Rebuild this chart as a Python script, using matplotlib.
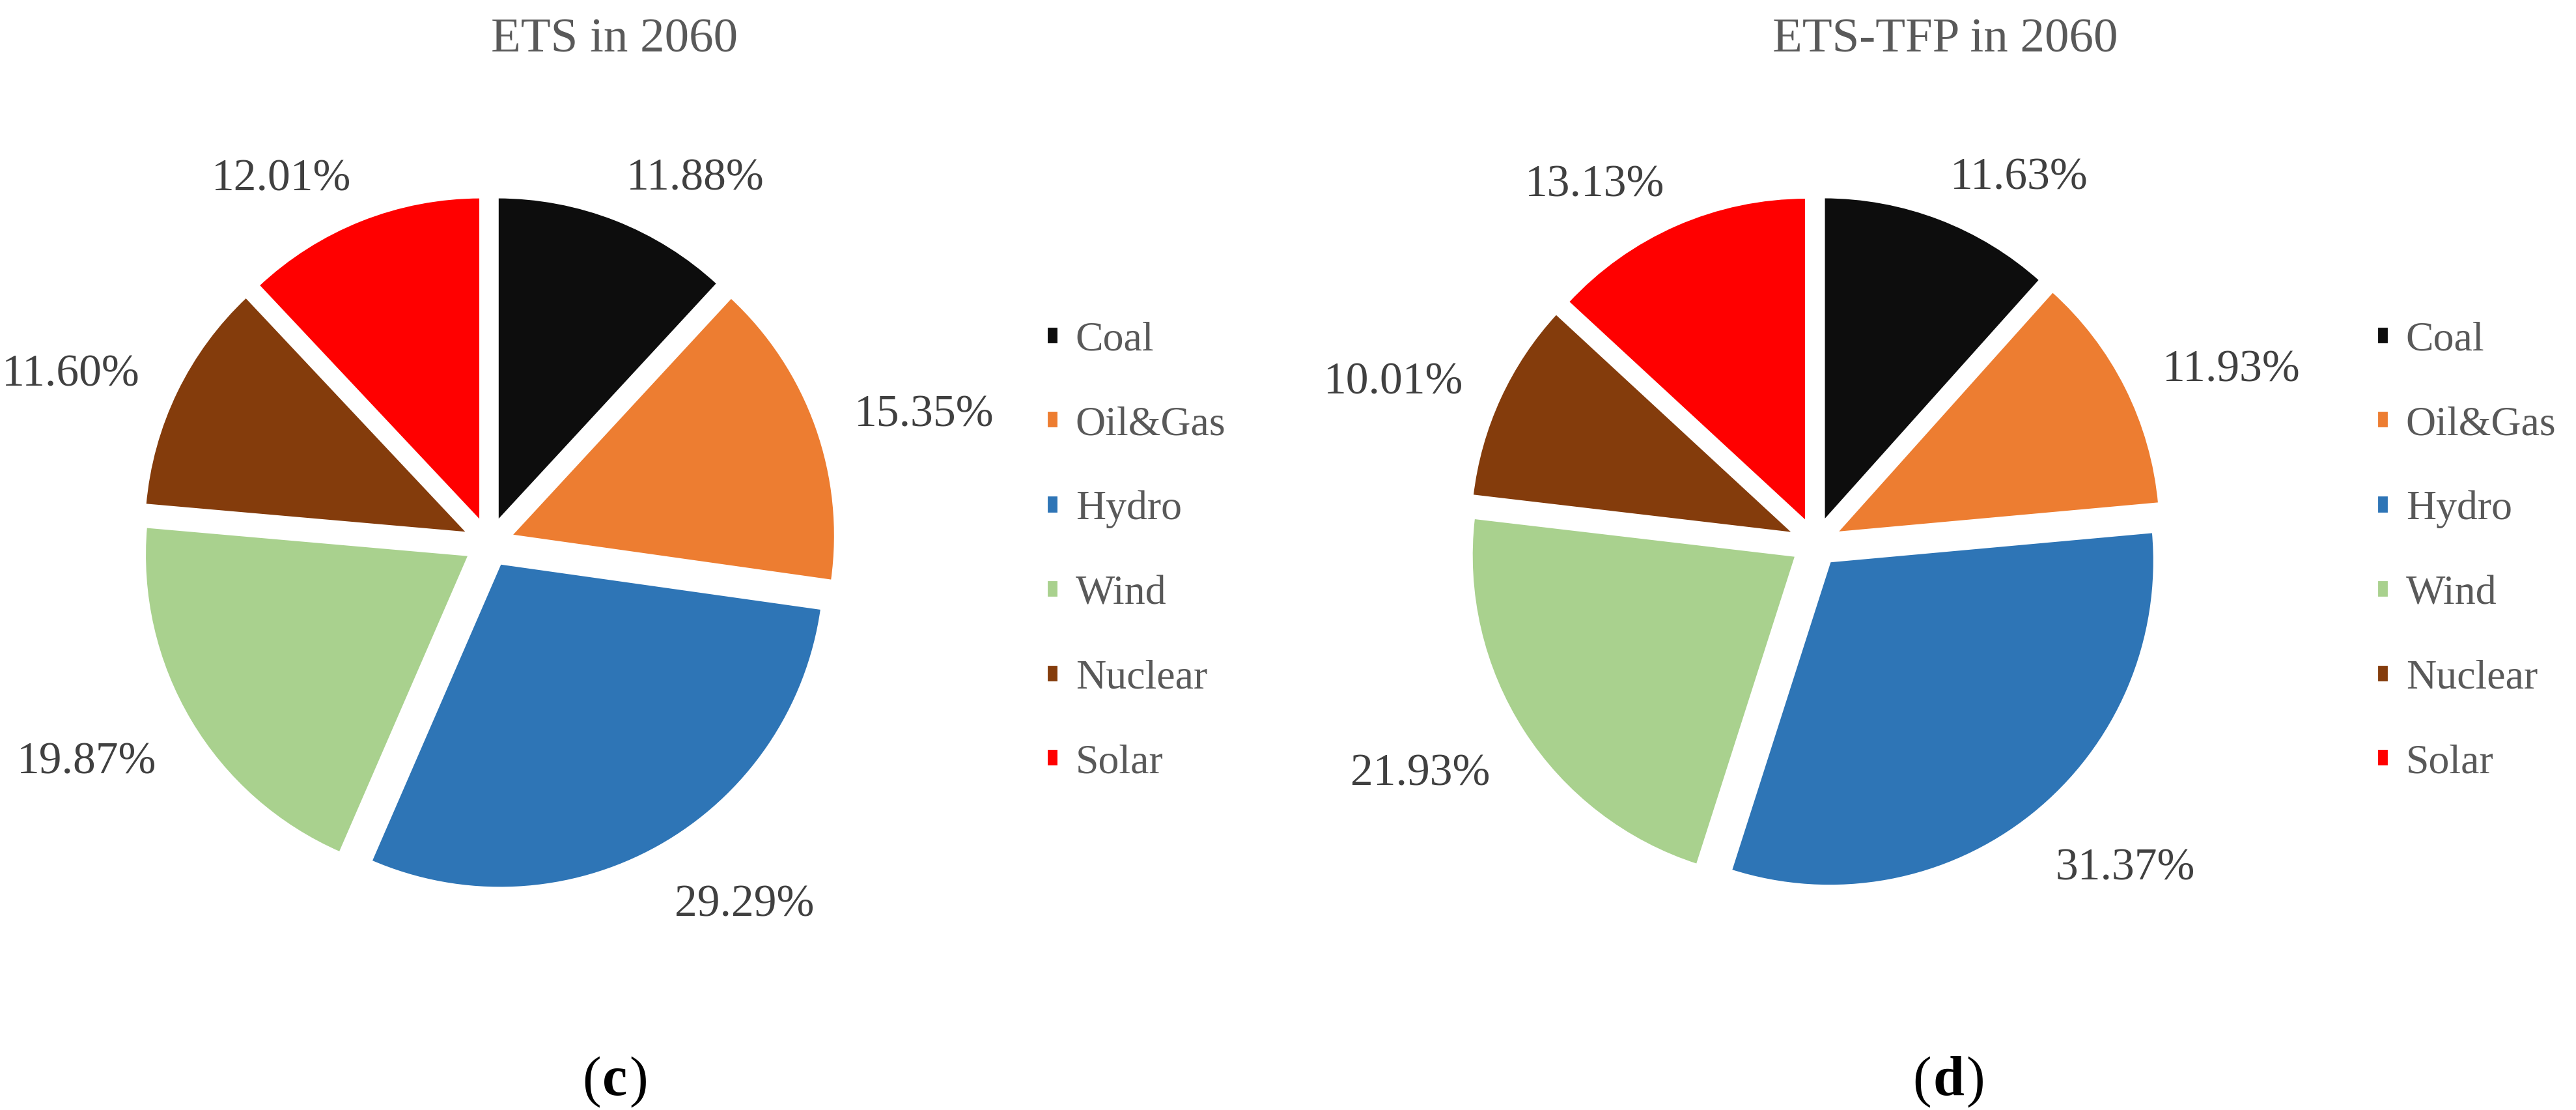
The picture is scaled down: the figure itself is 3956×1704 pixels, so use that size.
import matplotlib
matplotlib.use("Agg")
import numpy as np
import matplotlib.pyplot as plt

plt.rcParams["font.family"] = ["Liberation Serif", "DejaVu Serif"]

SOURCES = ["Coal", "Oil&Gas", "Hydro", "Wind", "Nuclear", "Solar"]
COLORS = ["#0d0d0d", "#ed7d31", "#2e75b6", "#a9d18e", "#843c0c", "#ff0000"]

ETS_2060 = [11.88, 15.35, 29.29, 19.87, 11.60, 12.01]
ETS_TFP_2060 = [11.63, 11.93, 31.37, 21.93, 10.01, 13.13]

PANELS = [
    ("ETS in 2060", ETS_2060, "c"),
    ("ETS-TFP in 2060", ETS_TFP_2060, "d"),
]

W, H = 3956, 1704
DPI = 200
UNIT = 499          # pixels per pie radius
LIM = 1.5
EXPLODE = 0.07
GREY = "#595959"
LABEL_GREY = "#404040"

PIE_CX = [751, 2788]
PIE_CY = 834
TITLE_X = [944, 2987]
LEGEND_X = [1607, 3650]


def place_labels(values, autotexts):
    # outside-end labels: text box sits just beyond the wedge edge
    bounds = np.cumsum([0] + list(values)) / np.sum(values) * 360
    for i, t in enumerate(autotexts):
        mid = np.deg2rad(90 - (bounds[i] + bounds[i + 1]) / 2)
        ux, uy = np.cos(mid), np.sin(mid)
        r = 1 + EXPLODE + 0.15
        x = r * ux + 0.19 * np.sign(ux)
        y = r * uy + 0.017 * np.sign(uy) - 0.033
        t.set_position((x, y))
        t.set_ha("center")
        t.set_va("center")


def draw_panel(fig, idx, title, values, tag):
    side = 2 * LIM * UNIT
    cx, cy = PIE_CX[idx], PIE_CY
    ax = fig.add_axes([(cx - side / 2) / W, (H - cy - side / 2) / H, side / W, side / H])
    wedges, _, autotexts = ax.pie(
        values,
        colors=COLORS,
        startangle=90,
        counterclock=False,
        explode=[EXPLODE] * len(values),
        autopct="%.2f%%",
        wedgeprops=dict(edgecolor="white", linewidth=1.5),
        textprops=dict(fontsize=25, color=LABEL_GREY),
    )
    place_labels(values, autotexts)
    ax.set_xlim(-LIM, LIM)
    ax.set_ylim(-LIM, LIM)
    ax.set_aspect("equal")
    ax.set_axis_off()

    fig.text(TITLE_X[idx] / W, 1 - 62 / H, title, ha="center", va="center",
             fontsize=27, color=GREY)

    leg = fig.legend(
        wedges, SOURCES,
        loc="center left",
        bbox_to_anchor=(LEGEND_X[idx] / W, 1 - 847 / H),
        frameon=False,
        fontsize=23,
        handlelength=0.3,
        handleheight=0.3,
        handletextpad=0.4,
        labelspacing=1.12,
        borderpad=0,
        borderaxespad=0,
    )
    for t in leg.get_texts():
        t.set_color(GREY)

    # panel tag: "(c)" with only the letter bold
    t1 = fig.text(TITLE_X[idx] / W - 0.009, 1 - 1681 / H, "(", ha="center", va="baseline",
                  fontsize=31, color="black")
    ann = ax.annotate(tag, xy=(1, 0), xycoords=t1, xytext=(1, 0),
                      textcoords="offset points", ha="left", va="bottom",
                      fontsize=31, fontweight="bold", color="black",
                      annotation_clip=False)
    ax.annotate(")", xy=(1, 0), xycoords=ann, xytext=(1, 0),
                textcoords="offset points", ha="left", va="bottom",
                fontsize=31, color="black", annotation_clip=False)


def main():
    fig = plt.figure(figsize=(W / DPI, H / DPI), dpi=DPI, facecolor="white")
    for i, (title, values, tag) in enumerate(PANELS):
        draw_panel(fig, i, title, values, tag)
    fig.savefig("out.png", dpi=DPI, facecolor="white")
    plt.close(fig)


if __name__ == "__main__":
    main()
